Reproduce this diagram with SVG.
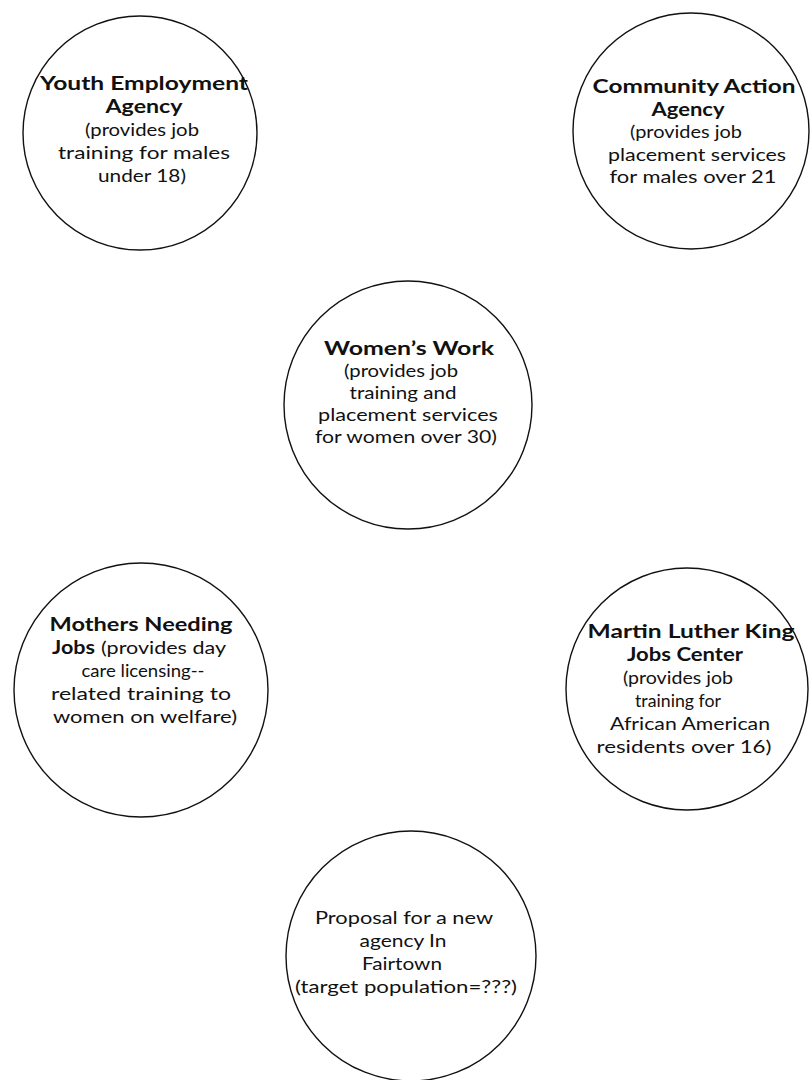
<svg xmlns="http://www.w3.org/2000/svg" width="811" height="1080" viewBox="0 0 811 1080">
<style>
.c{fill:#fff;stroke:#111;stroke-width:1.4}
text{font-family:Lato,"Open Sans","Liberation Sans",sans-serif;font-size:18px;fill:#111;text-anchor:middle}
.b{font-weight:bold}
.s{text-anchor:start}
</style>
<rect width="811" height="1080" fill="#fff"/>
<g id="youth">
<circle class="c" cx="140" cy="133" r="117"/>
<text class="b" x="144" y="90" textLength="208" lengthAdjust="spacingAndGlyphs">Youth Employment</text>
<text class="b" x="144" y="113" textLength="77" lengthAdjust="spacingAndGlyphs">Agency</text>
<text x="142" y="136" textLength="114" lengthAdjust="spacingAndGlyphs">(provides job</text>
<text x="144" y="159" textLength="172" lengthAdjust="spacingAndGlyphs">training for males</text>
<text x="142" y="182" textLength="88" lengthAdjust="spacingAndGlyphs">under 18)</text>
</g>
<g id="community">
<circle class="c" cx="691" cy="131" r="118"/>
<text class="b" x="694" y="93" textLength="203" lengthAdjust="spacingAndGlyphs">Community Action</text>
<text class="b" x="688" y="115.5" textLength="73" lengthAdjust="spacingAndGlyphs">Agency</text>
<text x="686" y="138" textLength="112" lengthAdjust="spacingAndGlyphs">(provides job</text>
<text x="697" y="160.5" textLength="178" lengthAdjust="spacingAndGlyphs">placement services</text>
<text x="693" y="183" textLength="167" lengthAdjust="spacingAndGlyphs">for males over 21</text>
</g>
<g id="womens">
<circle class="c" cx="408" cy="405" r="124"/>
<text class="b" x="409" y="355" textLength="170" lengthAdjust="spacingAndGlyphs">Women’s Work</text>
<text x="401" y="377" textLength="114" lengthAdjust="spacingAndGlyphs">(provides job</text>
<text x="403" y="399" textLength="107" lengthAdjust="spacingAndGlyphs">training and</text>
<text x="408" y="421" textLength="180" lengthAdjust="spacingAndGlyphs">placement services</text>
<text x="406" y="443" textLength="182" lengthAdjust="spacingAndGlyphs">for women over 30)</text>
</g>
<g id="mothers">
<circle class="c" cx="141" cy="690" r="127"/>
<text class="b" x="141" y="631" textLength="183" lengthAdjust="spacingAndGlyphs">Mothers Needing</text>
<text class="b s" x="52" y="654" textLength="43" lengthAdjust="spacingAndGlyphs">Jobs</text>
<text class="s" x="101" y="654" textLength="125" lengthAdjust="spacingAndGlyphs">(provides day</text>
<text x="143" y="677" textLength="123" lengthAdjust="spacingAndGlyphs">care licensing--</text>
<text x="141" y="700" textLength="180" lengthAdjust="spacingAndGlyphs">related training to</text>
<text x="145" y="723" textLength="184" lengthAdjust="spacingAndGlyphs">women on welfare)</text>
</g>
<g id="mlk">
<circle class="c" cx="687" cy="689" r="121"/>
<text class="b" x="691" y="638" textLength="207" lengthAdjust="spacingAndGlyphs">Martin Luther King</text>
<text class="b" x="685" y="661" textLength="116" lengthAdjust="spacingAndGlyphs">Jobs Center</text>
<text x="678" y="684" textLength="110" lengthAdjust="spacingAndGlyphs">(provides job</text>
<text x="678" y="707" textLength="86" lengthAdjust="spacingAndGlyphs">training for</text>
<text x="690" y="730" textLength="160" lengthAdjust="spacingAndGlyphs">African American</text>
<text x="684" y="753" textLength="175" lengthAdjust="spacingAndGlyphs">residents over 16)</text>
</g>
<g id="proposal">
<circle class="c" cx="411" cy="956" r="125"/>
<text x="404" y="924" textLength="178" lengthAdjust="spacingAndGlyphs">Proposal for a new</text>
<text x="403" y="947" textLength="87" lengthAdjust="spacingAndGlyphs">agency In</text>
<text x="402" y="970" textLength="80" lengthAdjust="spacingAndGlyphs">Fairtown</text>
<text x="406" y="993" textLength="222" lengthAdjust="spacingAndGlyphs">(target population=???)</text>
</g>
<g id="connectors"/>
</svg>
